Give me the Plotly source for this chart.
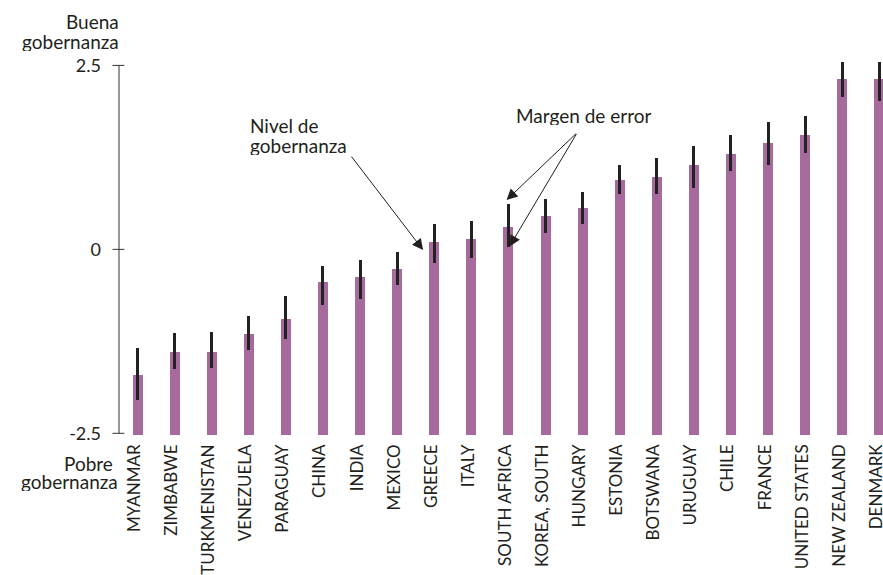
import plotly.graph_objects as go

# Governance indicator by country, with margin of error
countries = [
    "MYANMAR", "ZIMBABWE", "TURKMENISTAN", "VENEZUELA", "PARAGUAY", "CHINA",
    "INDIA", "MEXICO", "GREECE", "ITALY", "SOUTH AFRICA", "KOREA, SOUTH",
    "HUNGARY", "ESTONIA", "BOTSWANA", "URUGUAY", "CHILE", "FRANCE",
    "UNITED STATES", "NEW ZEALAND", "DENMARK",
]
governance = [
    -1.71, -1.39, -1.39, -1.15, -0.94, -0.45,
    -0.38, -0.27, 0.10, 0.14, 0.31, 0.45,
    0.56, 0.94, 0.99, 1.14, 1.30, 1.44,
    1.55, 2.32, 2.32,
]
err_plus = [
    0.37, 0.25, 0.27, 0.24, 0.30, 0.23,
    0.23, 0.23, 0.25, 0.25, 0.30, 0.23,
    0.22, 0.20, 0.25, 0.26, 0.25, 0.29,
    0.26, 0.22, 0.22,
]
err_minus = [
    0.34, 0.24, 0.22, 0.22, 0.28, 0.31,
    0.30, 0.22, 0.29, 0.26, 0.28, 0.23,
    0.22, 0.19, 0.24, 0.30, 0.23, 0.30,
    0.24, 0.25, 0.30,
]
y_ticks = [-2.5, 0, 2.5]
y_tick_labels = ["-2.5", "0", "2.5"]

BASE = -2.52
BAR_COLOR = "#a66a9d"
INK = "#231f20"
FONT = "Lato"

W, H = 883, 575
M_L, M_R, M_T, M_B = 118.5, 0, 46.6, 138.3


def to_paper(px, py):
    """Convert a page pixel position to paper coordinates of the plot area."""
    return ((px - M_L) / (W - M_L - M_R), 1 - (py - M_T) / (H - M_T - M_B))


fig = go.Figure()
fig.add_trace(go.Bar(
    x=countries,
    y=[v - BASE for v in governance],
    base=BASE,
    width=0.27,
    marker=dict(color=BAR_COLOR, line=dict(width=0)),
    error_y=dict(
        type="data", symmetric=False,
        array=err_plus, arrayminus=err_minus,
        color="#222222", thickness=3, width=0,
    ),
    hoverinfo="skip",
))

# Vertical axis line and crossing tick marks
shapes = [dict(type="line", xref="paper", yref="y", x0=0, x1=0,
               y0=y_ticks[0], y1=y_ticks[-1], line=dict(color="#333333", width=1))]
for t in y_ticks:
    shapes.append(dict(type="line", xref="paper", yref="y", x0=-0.0085, x1=0.0070,
                       y0=t, y1=t, line=dict(color="#333333", width=1)))


def label(text, px, py, anchor):
    x, y = to_paper(px, py)
    return dict(text=text, xref="paper", yref="paper", x=x, y=y,
                xanchor=anchor, yanchor="middle", showarrow=False,
                height=19, valign="middle", borderpad=0,
                font=dict(size=19, color=INK, family=FONT))


annotations = [
    label("Buena", 120, 21, "right"),
    label("gobernanza", 119.5, 41, "right"),
    label("Pobre", 113, 463, "right"),
    label("gobernanza", 118, 481, "right"),
    label("Nivel de", 249, 125.5, "left"),
    label("gobernanza", 248.5, 145.5, "left"),
    label("Margen de error", 584, 115.5, "center"),
]
arrows = [
    ((5.74, 1.28), (7.70, -0.01)),
    ((11.86, 1.59), (9.95, 0.67)),
    ((11.86, 1.59), (10.03, 0.04)),
]
for (ax, ay), (hx, hy) in arrows:
    annotations.append(dict(
        text="", x=hx, y=hy, ax=ax, ay=ay, xref="x", yref="y", axref="x", ayref="y",
        showarrow=True, arrowhead=2, arrowsize=2.2, arrowwidth=1, arrowcolor=INK,
    ))

fig.update_layout(
    width=W, height=H,
    margin=dict(l=M_L, r=M_R, t=M_T, b=M_B),
    paper_bgcolor="white", plot_bgcolor="white",
    showlegend=False,
    bargap=0,
    shapes=shapes,
    annotations=annotations,
    font=dict(family=FONT, color=INK),
    xaxis=dict(
        type="category", range=[-0.5, 20.1], automargin=False,
        showgrid=False, zeroline=False, showline=False, ticks="",
        tickangle=-90, tickfont=dict(size=17, color=INK, family=FONT),
        ticklabelstandoff=3, ticklabelshift=-3,
    ),
    yaxis=dict(
        range=[-2.55, 2.75], automargin=False,
        showgrid=False, zeroline=False, showline=False, ticks="",
        tickvals=y_ticks, ticktext=y_tick_labels,
        ticklabelstandoff=17,
        tickfont=dict(size=18, color=INK, family=FONT),
    ),
)

fig.write_html("out.html")
